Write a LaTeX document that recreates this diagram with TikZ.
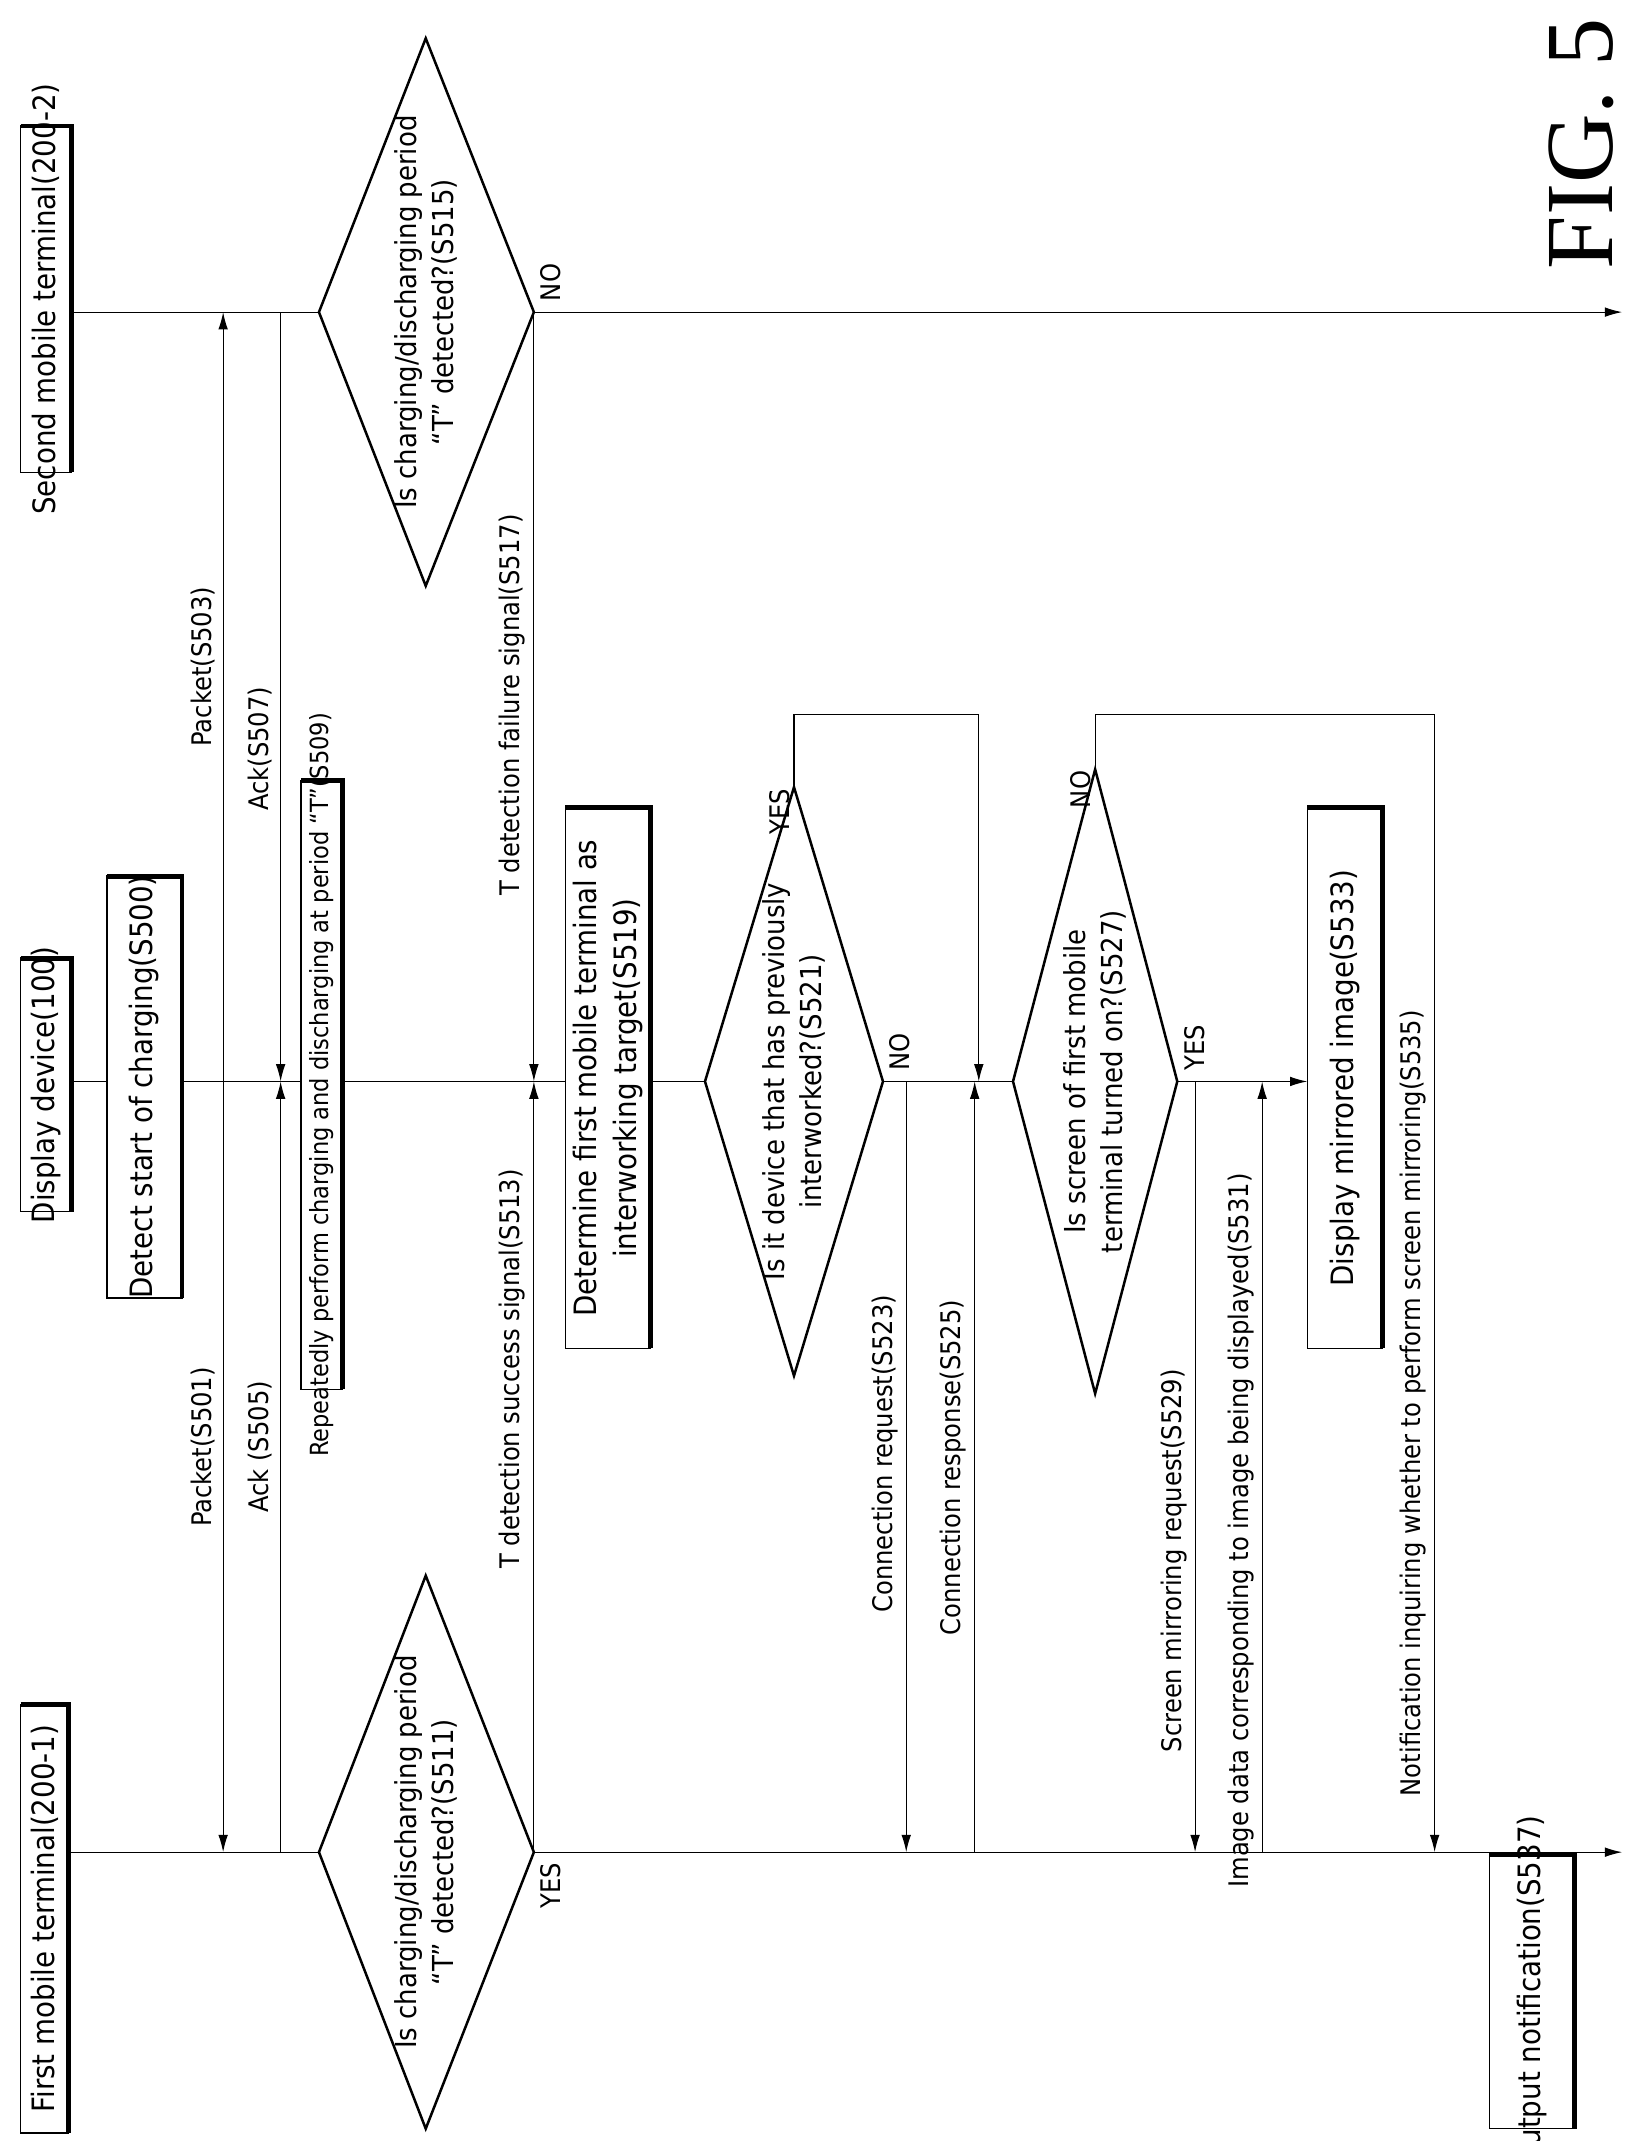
\documentclass[tikz,border=0pt]{standalone}
\usepackage{fontspec}
\usetikzlibrary{arrows.meta}
\setmainfont{DejaVu Sans Condensed}
\newfontfamily\figfont{Liberation Serif}
\begin{document}
\begin{tikzpicture}[x=0.025cm,y=-0.025cm,
  lbl/.style={rotate=90,inner sep=2pt,font=\fontsize{14}{16}\selectfont},
  ml/.style={lbl,anchor=south},
  arr/.style={-{Latex[length=9pt,width=5pt]},line width=0.6pt},
  ln/.style={line width=0.6pt},
  dm/.style={draw,line width=1.3pt,fill=white}]
\useasboundingbox (0,0) rectangle (1200,1564);
% lifelines
\coordinate (L1s) at (50,1353); \coordinate (L1e) at (1185,1353);
\coordinate (L2s) at (52,228); \coordinate (L2e) at (1185,228);
\coordinate (Ds) at (52,790);
\draw[ln] (L1s) -- (233,1353); \draw[arr] (390,1353) -- (L1e);
\draw[ln] (L2s) -- (233,228); \draw[arr] (390,228) -- (L2e);
\draw[ln] (Ds) -- (515,790);
\draw[ln] (645,790) -- (740,790);
\coordinate (D527r) at (860,790);
% header boxes
\newcommand{\shbox}[6]{% name, x1,y1,x2,y2, text
  \draw[line width=0.8pt,fill=white] (#2,#3) rectangle (#4,#5);
  \draw[line width=2.5pt] (#2,#3) -- (#4,#3) -- (#4,#5);
  \node[rotate=90,align=center,font=\fontsize{16}{21}\selectfont] (#1) at ({(#2+#4)/2},{(#3+#5)/2}) {#6};}
\shbox{h1}{15}{1245}{50}{1558}{First mobile terminal(200-1)}
\shbox{h0}{15}{700}{52}{885}{Display device(100)}
\shbox{h2}{15}{92}{52}{345}{Second mobile terminal(200-2)}
\shbox{b500}{78}{640}{133}{948}{Detect start of charging(S500)}
\shbox{b509}{220}{570}{250}{1015}{\fontsize{13}{15}\selectfont Repeatedly perform charging and discharging at period ``T''(S509)}
\shbox{b519}{413}{590}{475}{985}{Determine first mobile terminal as\\interworking target(S519)}
\shbox{b533}{955}{590}{1010}{985}{Display mirrored image(S533)}
\shbox{b537}{1088}{1355}{1150}{1555}{Output notification(S537)}
% messages
\draw[arr] (163,790) -- (163,1353); \node[ml] at (160,1057) {Packet(S501)};
\draw[arr] (163,790) -- (163,228); \node[ml] at (160,487) {Packet(S503)};
\draw[arr] (205,1353) -- (205,790); \node[ml] at (202,1057) {Ack (S505)};
\draw[arr] (205,228) -- (205,790); \node[ml] at (202,547) {Ack(S507)};
% diamonds
\draw[dm] (233,1353) -- (311,1151) -- (390,1353) -- (311,1555) -- cycle;
\node[rotate=90,align=center,font=\fontsize{15}{19}\selectfont] (d511) at (311,1353) {Is charging/discharging period\\``T'' detected?(S511)};
\draw[dm] (233,228) -- (311,28) -- (390,228) -- (311,428) -- cycle;
\node[rotate=90,align=center,font=\fontsize{15}{19}\selectfont] (d515) at (311,228) {Is charging/discharging period\\``T'' detected?(S515)};
\node[lbl,anchor=north east] at (392,1358) {YES};
\node[lbl,anchor=north west] at (392,223) {NO};
\draw[arr] (390,1353) -- (390,790); \node[ml] at (387,1000) {T detection success signal(S513)};
\draw[arr] (390,228) -- (390,790); \node[ml] at (387,515) {T detection failure signal(S517)};
% S521
\draw[dm] (515,790) -- (580,575) -- (645,790) -- (580,1005) -- cycle;
\node[rotate=90,align=center,font=\fontsize{15}{19}\selectfont] (d521) at (580,790) {Is it device that has previously\\interworked?(S521)};
\node[lbl,anchor=south east] at (580,573) {YES};
\node[lbl,anchor=north west] at (647,785) {NO};
\draw[ln] (580,575) -- (580,522) -- (715,522);
\draw[arr] (715,522) -- (715,790);
\draw[arr] (662,790) -- (662,1353); \node[ml] at (659,1062) {Connection request(S523)};
\draw[arr] (712,1353) -- (712,790); \node[ml] at (709,1072) {Connection response(S525)};
% S527
\draw[dm] (740,790) -- (800,562) -- (860,790) -- (800,1018) -- cycle;
\node[rotate=90,align=center,font=\fontsize{15}{19}\selectfont] (d527) at (800,790) {Is screen of first mobile\\terminal turned on?(S527)};
\node[lbl,anchor=south east] at (800,560) {NO};
\node[lbl,anchor=north west] at (862,785) {YES};
\draw[ln] (800,562) -- (800,522) -- (1048,522);
\draw[arr] (1048,522) -- (1048,1353); \node[ml] at (1045,1025) {Notification inquiring whether to perform screen mirroring(S535)};
\draw[arr] (D527r) -- (955,790);
\draw[arr] (873,790) -- (873,1353); \node[ml] at (870,1140) {Screen mirroring request(S529)};
\draw[arr] (922,1353) -- (922,790); \node[ml] at (919,1118) {Image data corresponding to image being displayed(S531)};
% FIG
\node[rotate=90,font=\figfont\fontsize{50}{55}\selectfont] at (1155,105) {FIG. 5};
\end{tikzpicture}
\end{document}
